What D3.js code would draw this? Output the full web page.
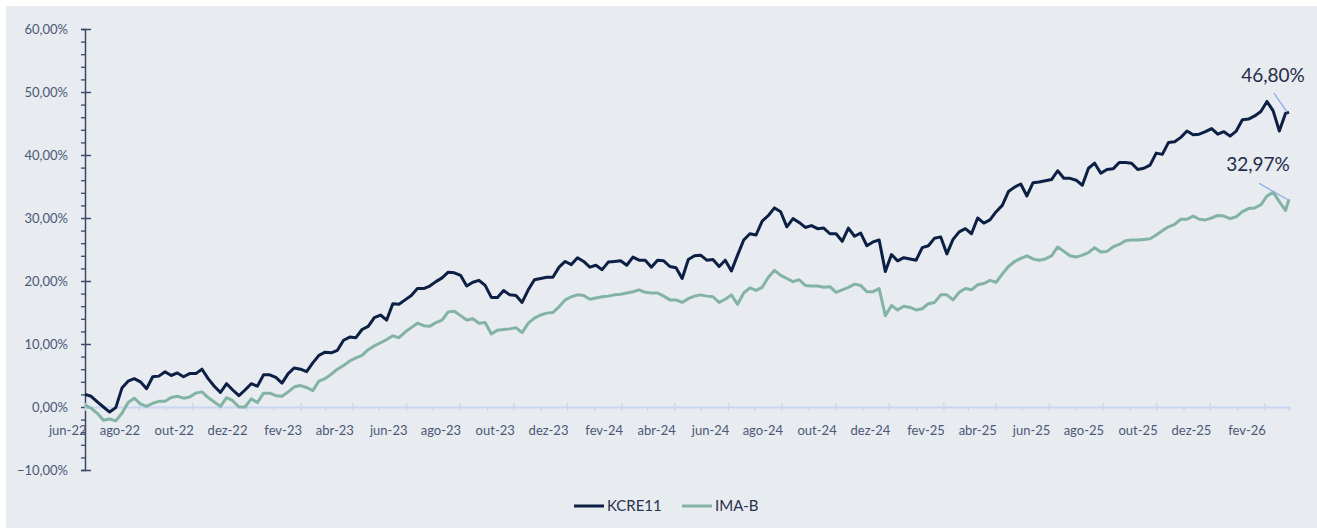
<!DOCTYPE html>
<html>
<head>
<meta charset="utf-8">
<script src="https://cdn.jsdelivr.net/npm/d3@7"></script>
<style>
  html, body { margin: 0; padding: 0; background: #ffffff; }
  #canvas { width: 1317px; height: 528px; }
  text { font-family: Lato, 'Noto Sans', sans-serif; }
</style>
</head>
<body>
<div id="canvas"></div>
<script>
// weekly closes, cumulative return in %
var startDate = '2022-06-01';
var endDate = '2026-03-01';
var stepDays = 7;

var seriesNames = ['KCRE11', 'IMA-B'];

var kcre = [
    2.0, 1.7, 0.8, 0.0, -0.8, -0.1, 3.0, 4.1, 4.5, 4.0,
    2.9, 4.8, 4.9, 5.6, 5.0, 5.4, 4.8, 5.3, 5.3, 6.0,
    4.5, 3.3, 2.3, 3.7, 2.7, 1.8, 2.7, 3.7, 3.3, 5.1,
    5.1, 4.7, 3.8, 5.3, 6.2, 6.0, 5.6, 7.0, 8.2, 8.7,
    8.6, 9.0, 10.6, 11.1, 11.0, 12.3, 12.8, 14.2, 14.6, 13.8,
    16.4, 16.3, 17.0, 17.7, 18.8, 18.8, 19.2, 19.9, 20.5, 21.4,
    21.3, 20.9, 19.2, 19.8, 20.1, 19.3, 17.4, 17.4, 18.5, 17.8,
    17.7, 16.6, 18.6, 20.2, 20.4, 20.6, 20.6, 22.2, 23.1, 22.6,
    23.7, 23.1, 22.2, 22.5, 21.8, 23.0, 23.1, 23.2, 22.5, 23.8,
    23.3, 23.3, 22.2, 23.3, 23.2, 22.3, 22.1, 20.4, 23.4, 24.0,
    24.1, 23.3, 23.4, 22.3, 23.3, 21.6, 24.1, 26.5, 27.5, 27.3,
    29.5, 30.4, 31.6, 31.0, 28.6, 29.9, 29.3, 28.5, 28.8, 28.3,
    28.4, 27.5, 27.5, 26.3, 28.4, 27.1, 27.6, 25.6, 26.2, 26.5,
    21.5, 24.2, 23.2, 23.7, 23.5, 23.3, 25.3, 25.6, 26.8, 27.0,
    24.3, 26.6, 27.8, 28.3, 27.5, 30.0, 29.2, 29.7, 31.0, 32.0,
    34.2, 34.9, 35.4, 33.5, 35.6, 35.7, 35.9, 36.1, 37.5, 36.3,
    36.3, 36.0, 35.2, 37.9, 38.7, 37.1, 37.7, 37.8, 38.8, 38.8,
    38.7, 37.7, 37.9, 38.4, 40.3, 40.1, 42.0, 42.1, 42.8, 43.8,
    43.2, 43.3, 43.7, 44.2, 43.3, 43.7, 43.0, 43.8, 45.6, 45.7,
    46.2, 46.9, 48.5, 47.0, 43.8, 46.6, 46.80
];

var imab = [
    0.3, -0.2, -1.0, -2.1, -1.9, -2.2, -1.0, 0.7, 1.4, 0.5,
    0.1, 0.6, 0.9, 0.9, 1.5, 1.7, 1.4, 1.6, 2.2, 2.4,
    1.5, 0.8, 0.1, 1.5, 1.0, 0.0, 0.0, 1.3, 0.7, 2.2,
    2.2, 1.8, 1.7, 2.4, 3.2, 3.4, 3.1, 2.6, 4.1, 4.5,
    5.2, 6.0, 6.6, 7.3, 7.8, 8.2, 9.1, 9.7, 10.2, 10.7,
    11.3, 11.0, 11.9, 12.6, 13.3, 12.9, 12.8, 13.4, 13.8, 15.1,
    15.2, 14.5, 13.8, 14.0, 13.3, 13.4, 11.6, 12.2, 12.3, 12.4,
    12.6, 11.8, 13.3, 14.1, 14.6, 14.9, 15.0, 15.9, 17.0, 17.5,
    17.8, 17.7, 17.1, 17.3, 17.5, 17.6, 17.8, 17.9, 18.1, 18.3,
    18.6, 18.2, 18.1, 18.1, 17.6, 17.0, 17.0, 16.6, 17.2, 17.6,
    17.8, 17.6, 17.5, 16.6, 17.1, 17.8, 16.3, 18.1, 18.9, 18.5,
    19.0, 20.6, 21.7, 20.9, 20.4, 19.9, 20.2, 19.3, 19.2, 19.2,
    19.0, 19.1, 18.2, 18.6, 19.0, 19.5, 19.3, 18.3, 18.3, 18.8,
    14.5, 16.1, 15.4, 16.0, 15.8, 15.4, 15.6, 16.4, 16.6, 17.8,
    17.8, 17.0, 18.2, 18.8, 18.6, 19.4, 19.6, 20.1, 19.8, 21.1,
    22.3, 23.1, 23.6, 24.0, 23.5, 23.3, 23.5, 24.0, 25.4, 24.7,
    24.0, 23.8, 24.1, 24.5, 25.3, 24.6, 24.7, 25.4, 25.8, 26.4,
    26.5, 26.5, 26.6, 26.7, 27.3, 28.0, 28.6, 29.0, 29.8, 29.8,
    30.3, 29.8, 29.7, 30.0, 30.4, 30.3, 29.9, 30.2, 31.0, 31.5,
    31.6, 32.1, 33.5, 34.1, 32.6, 31.2, 32.97
];

var yTicks = [-10, 0, 10, 20, 30, 40, 50, 60];
var monthAbbr = ['jan', 'fev', 'mar', 'abr', 'mai', 'jun', 'jul', 'ago', 'set', 'out', 'nov', 'dez'];

function drawChart() {

    var width = 1317, height = 528;
    var colors = ['#0c1f45', '#83b3a4'];

    var t0 = new Date(startDate + 'T00:00:00Z');
    var t1 = new Date(endDate + 'T00:00:00Z');
    var dates = d3.utcDay.range(t0, t1, stepDays);
    dates.push(t1);

    var svg = d3.select('#canvas').append('svg')
        .attr('width', width)
        .attr('height', height);

    // panel background
    svg.append('rect')
        .attr('x', 6)
        .attr('y', 6)
        .attr('width', width - 6)
        .attr('height', height - 6)
        .attr('fill', '#e8ebef');

    var x = d3.scaleUtc()
        .domain([t0, t1])
        .range([85, 1289]);

    var y = d3.scaleLinear()
        .domain([-10, 60])
        .range([470, 29]);

    var fmtPct = function(v) {
        return d3.format('.2f')(v).replace('.', ',') + '%';
    };

    // y axis, major ticks
    var yAxis = svg.append('g')
        .attr('transform', 'translate(85,0)')
        .call(d3.axisLeft(y)
            .tickValues(yTicks)
            .tickSize(4)
            .tickPadding(13)
            .tickFormat(fmtPct));

    yAxis.select('.domain')
        .attr('stroke', '#3b4868')
        .attr('stroke-width', 1.5);
    yAxis.selectAll('.tick line')
        .attr('x2', -4)
        .attr('x1', 6)
        .attr('stroke', '#3b4868')
        .attr('stroke-width', 1.5);
    yAxis.selectAll('.tick text')
        .attr('fill', '#4b5878')
        .attr('font-size', '13px');

    // y axis minor ticks
    var minorY = d3.range(-10, 61, 2).filter(function(v) { return v % 10 !== 0; });
    svg.append('g')
        .attr('transform', 'translate(85,0)')
        .call(d3.axisLeft(y).tickValues(minorY).tickSize(4).tickFormat(''))
        .call(function(g) { g.select('.domain').remove(); })
        .selectAll('.tick line')
        .attr('stroke', '#3b4868')
        .attr('stroke-width', 1.3);

    // x axis at zero
    var months = d3.utcMonth.range(t0, d3.utcDay.offset(t1, 1));
    var majorMonths = months.filter(function(d, i) { return i % 2 === 0; });
    var minorMonths = months.filter(function(d, i) { return i % 2 === 1; });

    var xAxis = svg.append('g')
        .attr('transform', 'translate(0,' + y(0) + ')')
        .call(d3.axisBottom(x)
            .tickValues(majorMonths)
            .tickSize(4)
            .tickPadding(15)
            .tickFormat(function(d) {
                return monthAbbr[d.getUTCMonth()] + '-' + String(d.getUTCFullYear()).slice(2);
            }));

    xAxis.select('.domain')
        .attr('stroke', '#c8d5f3')
        .attr('stroke-width', 1.8);
    xAxis.selectAll('.tick line')
        .attr('y1', -4)
        .attr('stroke', '#c8d5f3')
        .attr('stroke-width', 1.3);
    xAxis.selectAll('.tick text')
        .attr('text-anchor', 'end')
        .attr('dx', '1')
        .attr('fill', '#4b5878')
        .attr('font-size', '13px');

    svg.append('g')
        .attr('transform', 'translate(0,' + y(0) + ')')
        .call(d3.axisBottom(x).tickValues(minorMonths).tickSize(4).tickFormat(''))
        .call(function(g) { g.select('.domain').remove(); })
        .selectAll('.tick line')
        .attr('stroke', '#c8d5f3')
        .attr('stroke-width', 1.3);

    // lines
    var series = [kcre, imab];
    var line = d3.line()
        .x(function(d, i) { return x(dates[i]); })
        .y(function(d) { return y(d); });

    svg.selectAll('.series')
        .data(series.slice().reverse())
        .enter()
        .append('path')
        .attr('class', 'series')
        .attr('fill', 'none')
        .attr('stroke', function(d, i) { return colors[1 - i]; })
        .attr('stroke-width', 3)
        .attr('stroke-linejoin', 'round')
        .attr('d', line);

    // end labels with leader lines
    var offsets = [[-13, -19, -14, -30], [-28, -16, -29, -28]];
    series.forEach(function(s, i) {
        var last = s[s.length - 1];
        var ex = x(dates[dates.length - 1]) - 2;
        var ey = y(last);
        var o = offsets[i];
        svg.append('line')
            .attr('x1', ex)
            .attr('y1', ey)
            .attr('x2', ex + o[0])
            .attr('y2', ey + o[1])
            .attr('stroke', '#86a9ee')
            .attr('stroke-width', 1.2);
        svg.append('text')
            .attr('x', ex + o[2])
            .attr('y', ey + o[3])
            .attr('text-anchor', 'middle')
            .attr('font-size', '19px')
            .attr('fill', '#1f2c4b')
            .text(fmtPct(last));
    });

    // legend
    var legendX = [574, 682];
    var legend = svg.selectAll('.legend')
        .data(seriesNames)
        .enter()
        .append('g')
        .attr('class', 'legend')
        .attr('transform', function(d, i) { return 'translate(' + legendX[i] + ',506)'; });

    legend.append('line')
        .attr('x1', 0)
        .attr('x2', 30)
        .attr('stroke', function(d, i) { return colors[i]; })
        .attr('stroke-width', 3);

    legend.append('text')
        .attr('x', 33)
        .attr('y', 5)
        .attr('font-size', '15px')
        .attr('fill', '#27324d')
        .text(function(d) { return d; });
}

drawChart();
</script>
</body>
</html>
